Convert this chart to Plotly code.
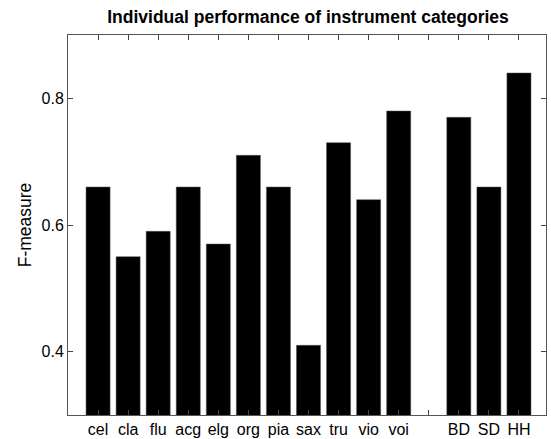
import plotly.graph_objects as go

categories = ["cel", "cla", "flu", "acg", "elg", "org", "pia", "sax", "tru", "vio", "voi", "", "BD", "SD", "HH"]
positions = list(range(1, 16))
values = [0.66, 0.55, 0.59, 0.66, 0.57, 0.71, 0.66, 0.41, 0.73, 0.64, 0.78, None, 0.77, 0.66, 0.84]
y_ticks = [0.4, 0.6, 0.8]

font = "Liberation Sans, Arial, sans-serif"

fig = go.Figure(go.Bar(
    x=positions, y=values, width=0.8,
    marker=dict(color="black", line=dict(color="#555", width=0.5)),
))

fig.update_layout(
    width=551, height=439,
    margin=dict(l=68, r=5, t=35, b=24),
    paper_bgcolor="white", plot_bgcolor="white",
    showlegend=False,
    font=dict(family=font, size=16, color="black"),
    title=dict(text="<b>Individual performance of instrument categories</b>",
               x=0.559, xanchor="center", y=0.962, yanchor="middle",
               font=dict(family=font, size=17.5, color="black")),
)
fig.update_xaxes(
    range=[0, 15.9], tickmode="array", tickvals=positions, ticktext=categories,
    ticks="inside", ticklen=5, tickcolor="#444", showline=True, linecolor="#555",
    linewidth=1, mirror="ticks", showgrid=False, zeroline=False,
    tickfont=dict(size=16), automargin=False,
)
fig.update_yaxes(
    range=[0.3, 0.9], tickmode="array", tickvals=y_ticks, ticktext=["0.4", "0.6", "0.8"],
    ticks="inside", ticklen=5, tickcolor="#444", showline=True, linecolor="#555",
    linewidth=1, mirror="ticks", showgrid=False, zeroline=False,
    tickfont=dict(size=16), automargin=False,
    title=dict(text="F-measure", font=dict(size=17.5), standoff=5),
)

fig.write_html("out.html", config={"displayModeBar": False},
               post_script="document.body.style.margin='0';document.body.style.overflow='hidden';")
